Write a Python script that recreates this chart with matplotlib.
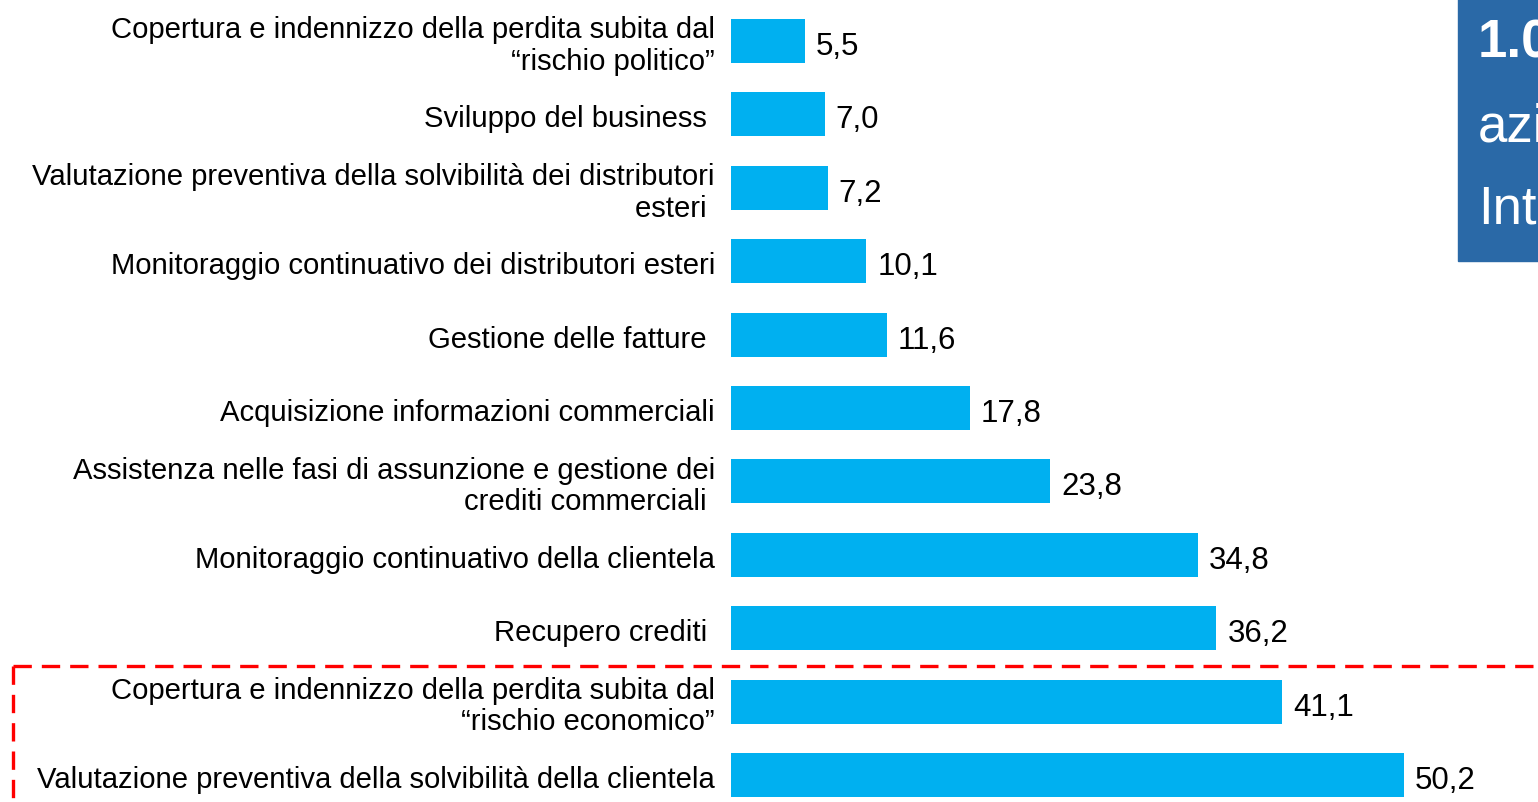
import matplotlib
matplotlib.use('Agg')
import matplotlib.pyplot as plt
from matplotlib.lines import Line2D
from matplotlib.patches import Rectangle
from matplotlib.transforms import offset_copy

plt.rcParams['font.family'] = ['Liberation Sans', 'DejaVu Sans']

labels = [
    'Copertura e indennizzo della perdita subita dal\n\u201crischio politico\u201d',
    'Sviluppo del business ',
    'Valutazione preventiva della solvibilità dei distributori\nesteri ',
    'Monitoraggio continuativo dei distributori esteri',
    'Gestione delle fatture ',
    'Acquisizione informazioni commerciali',
    'Assistenza nelle fasi di assunzione e gestione dei\ncrediti commerciali ',
    'Monitoraggio continuativo della clientela',
    'Recupero crediti ',
    'Copertura e indennizzo della perdita subita dal\n\u201crischio economico\u201d',
    'Valutazione preventiva della solvibilità della clientela',
]
values = [5.5, 7.0, 7.2, 10.1, 11.6, 17.8, 23.8, 34.8, 36.2, 41.1, 50.2]
box_lines = ['1.0', 'azi', 'Int']

W, H = 1538, 803
fig = plt.figure(figsize=(W / 100, H / 100), dpi=100)

# axes placed in pixel terms: bars start at x=731, 13.41 px per unit
px_unit = 13.41
y_top, y_bot = 42 - 36.7, 776 + 36.7
ax = fig.add_axes([731 / W, (H - y_bot) / H, (W - 731) / W, (y_bot - y_top) / H])

pos = list(range(len(values)))
ax.barh(pos, values, height=0.6, color='#00b0f0')
ax.set_xlim(0, (W - 731) / px_unit)
ax.set_ylim(len(values) - 0.5, -0.5)
ax.set_xticks([])
ax.set_yticks([])
for s in ax.spines.values():
    s.set_visible(False)

lab_tr = offset_copy(ax.get_yaxis_transform(), fig=fig, x=-16, y=-4, units='dots')
for p, lab in zip(pos, labels):
    ax.text(0, p, lab, transform=lab_tr, ha='right', va='center',
            multialignment='right', fontsize=21.1, linespacing=1.17)

val_tr = offset_copy(ax.transData, fig=fig, x=11, y=-5, units='dots')
for p, v in zip(pos, values):
    ax.text(v, p, f'{v:.1f}'.replace('.', ','), transform=val_tr,
            va='center', ha='left', fontsize=22.5)

# blue box at top right
fig.patches.append(Rectangle((1458 / W, 1 - 262 / H), 0.2, 262 / H,
                             transform=fig.transFigure, color='#2a69a7', zorder=0))
fig.text(1478 / W, 1 - 58 / H, box_lines[0], color='white', fontsize=38,
         fontweight='bold', va='baseline', ha='left')
fig.text(1478 / W, 1 - 142 / H, box_lines[1], color='white', fontsize=38,
         va='baseline', ha='left')
fig.text(1478 / W, 1 - 224 / H, box_lines[2], color='white', fontsize=38,
         va='baseline', ha='left')

# red dashed frame around the two top items
yl = 1 - 667 / H
fig.add_artist(Line2D([13 / W, 1.0], [yl, yl], transform=fig.transFigure,
                      color='red', lw=2.4, linestyle=(0, (5.5, 3))))
fig.add_artist(Line2D([13 / W, 13 / W], [yl, 0], transform=fig.transFigure,
                      color='red', lw=2.4, linestyle=(0, (5.5, 3))))

fig.savefig('out.png', dpi=100)
